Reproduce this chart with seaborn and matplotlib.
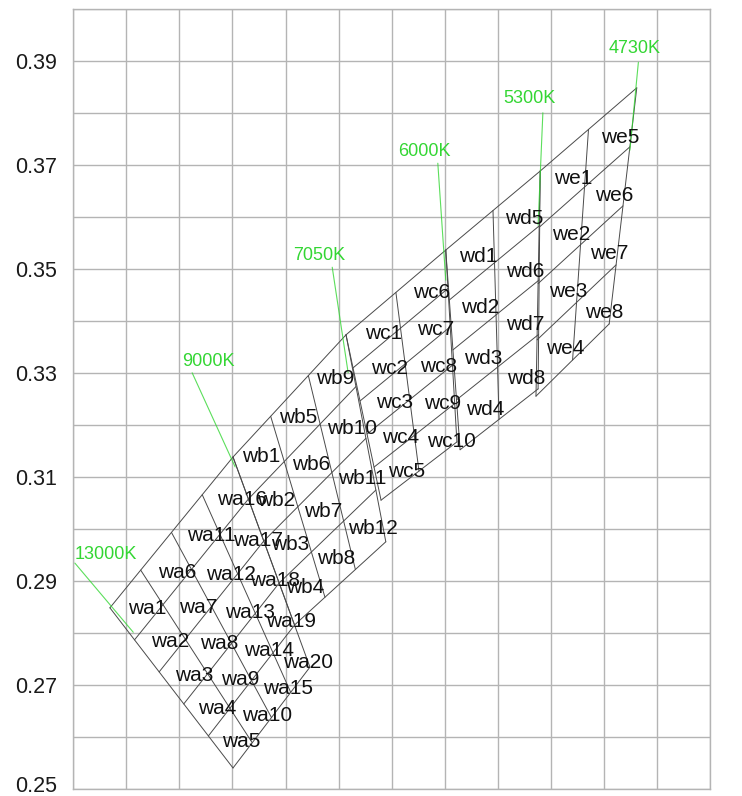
import numpy as np
import matplotlib
matplotlib.use("Agg")
import matplotlib.pyplot as plt
from matplotlib.transforms import ScaledTranslation
import seaborn as sns

# ---- chromaticity bin layout -------------------------------------------
# Bin groups: columns run along CCT (cool -> warm), rows run along Duv (top -> bottom)
groups = ["wa", "wb", "wc", "wd", "we"]
n_cols = [4, 3, 2, 2, 2]
n_rows = [5, 4, 5, 4, 4]

# CCT boundary lines, upper corner of each (shared by neighbouring groups)
cct_names = ["13000K", "9000K", "7050K", "6000K", "5300K", "4730K"]
top_x = [0.2569, 0.2801, 0.3014, 0.3202, 0.3380, 0.3562]
top_y = [0.2849, 0.3139, 0.3374, 0.3537, 0.3689, 0.3849]

# Lower corners of every group (cool side / warm side)
low_cool_x = [0.2801, 0.2917, 0.3080, 0.3229, 0.3372]
low_cool_y = [0.2541, 0.2816, 0.3056, 0.3153, 0.3256]
low_warm_x = [0.2946, 0.3089, 0.3223, 0.3376, 0.3510]
low_warm_y = [0.2735, 0.2976, 0.3168, 0.3270, 0.3395]

# Green isotherm markers: caption position, line start and line end
cct_text_x = [0.2503, 0.2705, 0.2914, 0.3112, 0.3310, 0.3508]
cct_text_y = [0.2951, 0.3322, 0.3526, 0.3726, 0.3828, 0.3924]
mark_x0 = [0.2503, 0.2724, 0.2988, 0.3187, 0.3385, 0.3565]
mark_y0 = [0.2935, 0.3301, 0.3504, 0.3704, 0.3801, 0.3898]
mark_x1 = [0.2613, 0.2805, 0.3018, 0.3202, 0.3376, 0.3549]
mark_y1 = [0.2802, 0.3120, 0.3301, 0.3479, 0.3585, 0.3729]

# ---- style -----------------------------------------------------------------
sns.set_theme(style="whitegrid")
plt.rcParams["font.family"] = ["Liberation Sans", "DejaVu Sans"]

GRID = "#b4b4b4"
EDGE = "#4a4a4a"
GREEN = "#33d633"
# caption offset (points) of the bin names, per group
name_offset = {"wa": (-6.5, -2.2), "wb": (-12.0, 1.2), "wc": (-6.5, -2.2),
               "wd": (-8.5, -0.5), "we": (-6.5, 0.5)}

fig = plt.figure(figsize=(7.42, 7.96), dpi=100)
ax = fig.add_axes([73.3 / 742, (796 - 789.3) / 796, (710 - 73.3) / 742, 780 / 796])
ax.set_xlim(0.25, 0.37)
ax.set_ylim(0.25, 0.40)

xt = np.round(np.arange(0.25, 0.3701, 0.01), 2)
yt = np.round(np.arange(0.25, 0.4001, 0.01), 2)
ax.set_xticks(xt)
ax.set_xticklabels([])
ax.set_yticks(yt)
ax.set_yticklabels([f"{v:.2f}" if i % 2 == 0 and v < 0.395 else "" for i, v in enumerate(yt)])
ax.tick_params(axis="both", length=0)
ax.tick_params(axis="y", pad=11.5, labelsize=15.5, labelcolor="#1a1a1a")
ax.grid(True, color=GRID, linewidth=1.0)
ax.set_facecolor("white")
for s in ax.spines.values():
    s.set_color(GRID)
    s.set_linewidth(1.0)

# keep the lowest tick caption inside the canvas
lowest = ax.get_yticklabels()[0]
lowest.set_transform(lowest.get_transform() + ScaledTranslation(0, 5 / 100, fig.dpi_scale_trans))


def corner(g, u, v):
    """Point of group g at fraction u along CCT and v along Duv."""
    tl = np.array([top_x[g], top_y[g]])
    tr = np.array([top_x[g + 1], top_y[g + 1]])
    bl = np.array([low_cool_x[g], low_cool_y[g]])
    br = np.array([low_warm_x[g], low_warm_y[g]])
    left = (1 - v) * tl + v * bl
    right = (1 - v) * tr + v * br
    return (1 - u) * left + u * right


for g, name in enumerate(groups):
    nc, nr = n_cols[g], n_rows[g]
    # Duv division lines
    for r in range(nr + 1):
        p0, p1 = corner(g, 0, r / nr), corner(g, 1, r / nr)
        ax.plot([p0[0], p1[0]], [p0[1], p1[1]], color=EDGE, lw=0.7, zorder=3)
    # CCT division lines
    for c in range(nc + 1):
        p0, p1 = corner(g, c / nc, 0), corner(g, c / nc, 1)
        ax.plot([p0[0], p1[0]], [p0[1], p1[1]], color=EDGE, lw=0.7, zorder=3)
    # bin names
    for c in range(nc):
        for r in range(nr):
            pts = [corner(g, c / nc, r / nr), corner(g, (c + 1) / nc, r / nr),
                   corner(g, (c + 1) / nc, (r + 1) / nr), corner(g, c / nc, (r + 1) / nr)]
            cx, cy = np.mean(pts, axis=0)
            ax.annotate(f"{name}{c * nr + r + 1}", (cx, cy), xytext=name_offset[name],
                        textcoords="offset points", ha="left", va="center",
                        fontsize=15, color="#111111", zorder=5)

# isotherm markers
for i, lab in enumerate(cct_names):
    ax.plot([mark_x0[i], mark_x1[i]], [mark_y0[i], mark_y1[i]],
            color=GREEN, lw=0.8, alpha=0.8, zorder=4)
    ax.text(cct_text_x[i], cct_text_y[i], lab, color=GREEN, fontsize=13,
            ha="left", va="center", zorder=5)

fig.savefig("out.png", dpi=100)
